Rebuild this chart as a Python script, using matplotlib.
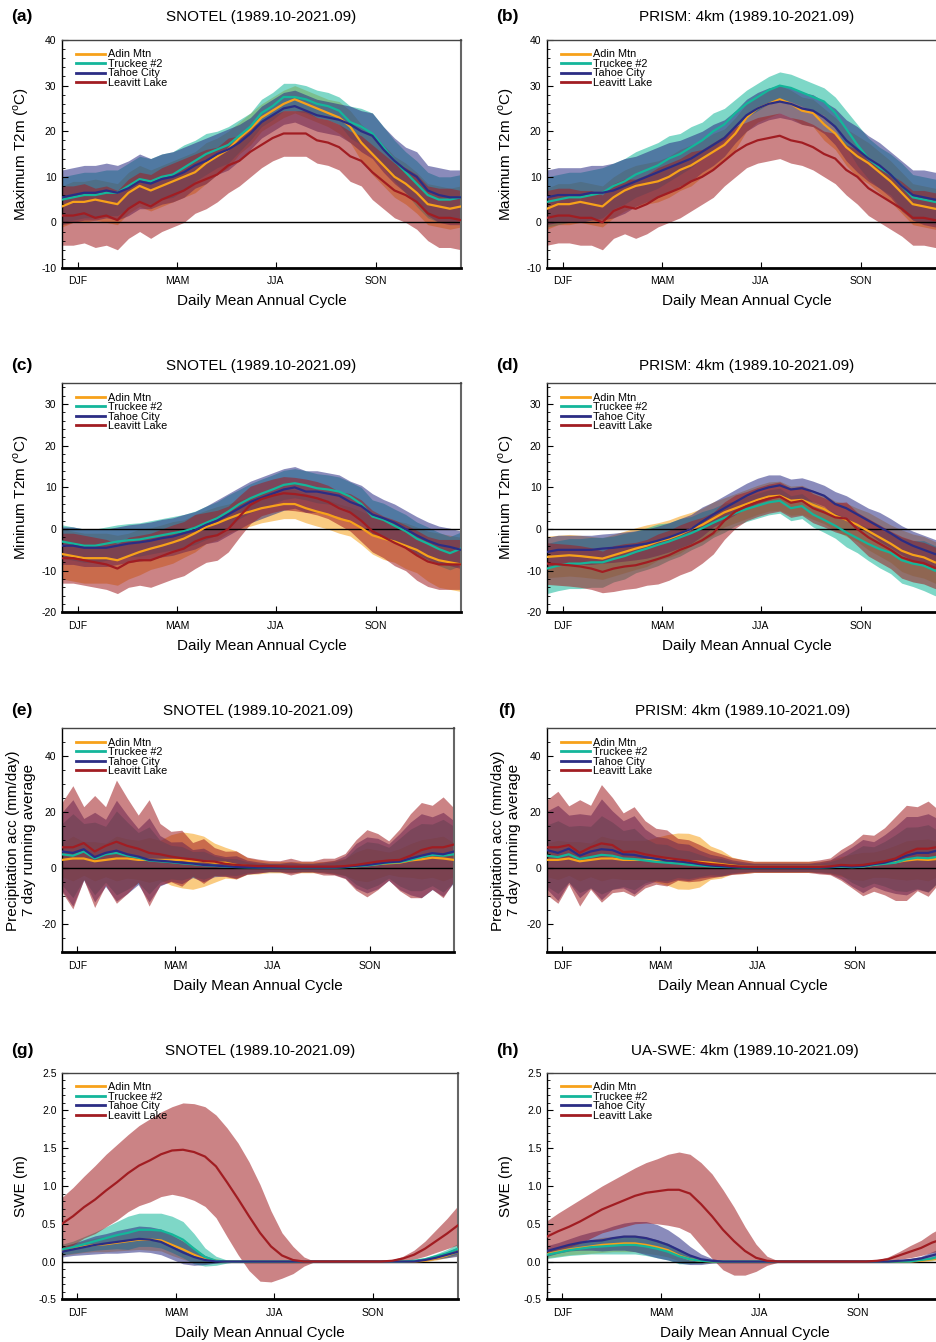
import numpy as np
import matplotlib
matplotlib.use("Agg")
import matplotlib.pyplot as plt
from matplotlib.ticker import MultipleLocator, FormatStrFormatter

plt.rcParams['font.family'] = ['Liberation Sans', 'DejaVu Sans']
plt.rcParams['mathtext.fontset'] = 'custom'
plt.rcParams['mathtext.rm'] = 'Liberation Sans'
plt.rcParams['axes.unicode_minus'] = False

# ---------------- data ----------------
days = [0, 10, 20, 30, 40, 50, 60, 70, 80, 90, 100, 110, 120, 130, 140, 150, 160, 170, 180,
        190, 200, 210, 220, 230, 240, 250, 260, 270, 280, 290, 300, 310, 320, 330, 340, 350, 360]
season_ticks = [14, 104, 193, 283]
season_labels = ["DJF", "MAM", "JJA", "SON"]
stations = ["Adin Mtn", "Truckee #2", "Tahoe City", "Leavitt Lake"]
colors = ["#F7A11A", "#14B69A", "#2B2D84", "#A11D22"]

# (a) SNOTEL Tmax
tmax_snotel_adin = [3.5,4.5,4.5,5,4.5,4,6.5,8,7,8,9,10,11,13,14.5,16,18.5,20.5,23,24.5,26,27,26,25,24,23,21,17.5,15,12.5,10,8.5,6.5,4,3.5,3,3.5]
tmax_snotel_truckee = [5,5.5,6,6,6.5,6.5,8,9.5,9,10,10.5,12,13.5,15,16,17,19,21,24,25.5,27.5,27.5,27,26,25.5,24.5,22,21,19.5,16.5,13.5,11,8.5,6,5,5,5.5]
tmax_snotel_tahoe = [5.5,6,6.5,6.5,7,6.5,7.5,9,8.5,9.5,10,11,12.5,13.5,15,16,17.5,19.5,22,23.5,25,25.5,24.5,23.5,23,22.5,21.5,20,19,16,13.5,11.5,10,7,6,5.5,5.5]
tmax_snotel_leavitt = [1.5,1.5,2,1,1.5,0.5,3,4.5,3.5,5,6,7,8.5,9.5,10.5,12.5,13.5,15.5,17,18.5,19.5,19.5,19.5,18,17.5,16.5,14.5,13.5,11,9,7,6,4.5,2,1,1,0.5]
tmax_snotel_sd_adin = [4.5,4.5,4.5,4.5,4.5,4.5,4.5,4.5,4.5,4.5,4.5,4.5,4.5,4.5,4,4,3.5,3.5,3,3,3,3,3,3,3,3.5,3.5,4,4.5,4.5,4.5,4.5,4.5,4.5,4.5,4.5,4.5]
tmax_snotel_sd_truckee = [5,5,5,5,5,5,5,5,5,5,5,5,4.5,4.5,4,4,3.5,3,3,3,3,3,3,3,3,3,3.5,4,4.5,4.5,4.5,4.5,5,5,5,5,5]
tmax_snotel_sd_tahoe = [6,6,6,6,6,6,6,6,5.5,5.5,5.5,5.5,5,5,4.5,4.5,4,3.5,3.5,3.5,3.5,3.5,3.5,3.5,3.5,3.5,4,4.5,5,5,5,5,5.5,5.5,6,6,6]
tmax_snotel_sd_leavitt = [6.5,6.5,6.5,6.5,6.5,6.5,6.5,6.5,7,7,7,7,6.5,6.5,6,6,5.5,5.5,5,5,5,5,5,5,5,5,5.5,5.5,6,6,6,6,6,6,6.5,6.5,6.5]

# (b) PRISM Tmax
tmax_prism_adin = [3,4,4,4.5,4,3.5,5.5,7,8,8.5,9,10,11.5,12.5,14,15.5,17,19.5,23,25,26,27,26,24.5,24,21.5,19.5,16.5,14.5,13,11,9,6.5,4,3.5,3,2.5]
tmax_prism_truckee = [4.5,5,5.5,5.5,6,6.5,8,9,10.5,11.5,12.5,14,15,16.5,18,20,21.5,24,26,27.5,29,30,29.5,28.5,27.5,26.5,24,20.5,17,14,12,10.5,8,5.5,5,4.5,4]
tmax_prism_tahoe = [5.5,6,6,6,6.5,6.5,7,8,9,10,11,12,13,14,15.5,17,18.5,21,23.5,25,26,26.5,26,25,24.5,23,21,18,16,14,12.5,10.5,8,6,5.5,5,5]
tmax_prism_leavitt = [1,1.5,1.5,1,1,0,2.5,3.5,3,4,5.5,6.5,7.5,9,10,11.5,13.5,15.5,17,18,18.5,19,18,17.5,16.5,15,14,11.5,10,7.5,6,4.5,3,1,1,0.5,0.5]
tmax_prism_sd_adin = [4.5,4.5,4.5,4.5,4.5,4.5,4.5,4.5,4.5,4.5,4.5,4.5,4.5,4.5,4,4,3.5,3.5,3,3,3,3,3,3,3,3.5,3.5,4,4.5,4.5,4.5,4.5,4.5,4.5,4.5,4.5,4.5]
tmax_prism_sd_truckee = [5.5,5.5,5.5,5.5,5.5,5.5,5,5,5,5,5,5,4.5,4.5,4,4,3.5,3,3,3,3,3,3,3,3,3,3.5,4,4.5,4.5,4.5,4.5,5,5,5,5,5]
tmax_prism_sd_tahoe = [6,6,6,6,6,6,6,6,5.5,5.5,5.5,5.5,5,5,4.5,4.5,4,3.5,3.5,3.5,3.5,3.5,3.5,3.5,3.5,3.5,4,4.5,5,5,5,5,5.5,5.5,6,6,6]
tmax_prism_sd_leavitt = [6,6,6,6,6,6,6,6,6.5,6.5,6.5,6.5,6.5,6.5,6,6,5.5,5.5,5,5,5,5,5,5,5,5,5.5,5.5,6,6,6,6,6,6,6,6,6]

# (c) SNOTEL Tmin
tmin_snotel_adin = [-6,-6.5,-7,-7,-7,-7.5,-6.5,-5.5,-4.7,-4,-3.2,-2.3,-1,0.5,1.4,2.5,3.5,4.2,5,5.5,6,6,5,4.2,3.5,2.5,1.8,0.3,-1.5,-2.3,-3,-4,-5,-6.5,-7.5,-8,-8.5]
tmin_snotel_truckee = [-3,-3.5,-4,-4,-3.5,-3,-2.7,-2.5,-2,-1.5,-1,-0.5,0.3,1.5,2.6,4.2,6,7.4,8.5,9.5,10.6,11,10.5,9.8,9.5,9,7.8,6,3,2.2,0.8,-0.5,-2.3,-3.5,-4.8,-5.8,-4.7]
tmin_snotel_tahoe = [-4,-4,-4.5,-4.5,-4.5,-4,-3.5,-3.2,-2.8,-2.2,-1.8,-1,-0.3,1,2,3.5,5,6.5,7.5,8.5,9.5,10,9,9,8.5,8,6.5,5.5,3.5,2.6,1.5,0,-1.5,-2.8,-3.8,-4.3,-5]
tmin_snotel_leavitt = [-7,-7,-7.5,-8,-8.5,-9.5,-8,-7.5,-7.5,-6.5,-5.5,-4.7,-3,-2,-1.5,0,3,5.8,7.2,8,8.6,8.4,8,7.4,6.5,5,4,2,-0.5,-1.9,-3.3,-4.5,-6.3,-7.8,-8.5,-8.5,-8.5]
tmin_snotel_sd_adin = [6,6,6,6,6,6,5.5,5.5,5,5,5,4.5,4.5,4,4,3.5,3.5,3.5,3.5,3.5,3.5,3.5,3.5,3.5,3.5,3.5,3.5,4,4.5,5,5,5.5,5.5,6,6.5,6.5,6.5]
tmin_snotel_sd_truckee = [4,4,4,4,4,4,4,4,4,4,4,4,4,4,4,4,3.5,3.5,3.5,3.5,3.5,3.5,3.5,3.5,3.5,3.5,3.5,4,4,4,4,4,4,4,4,4,4]
tmin_snotel_sd_tahoe = [4.5,4.5,4.5,4.5,4.5,4.5,4.5,4.5,4.5,4.5,4.5,4.5,4.5,4.5,5,5,5,5,5,5,5,5,5,5,5,5,5,5,5,4.5,4.5,4.5,4.5,4.5,4.5,4.5,4.5]
tmin_snotel_sd_leavitt = [6,6,6,6,6,6,6,6,6.5,6.5,6.5,6.5,6.5,6,6,5.5,5,4.5,4,4,4,4,4,4,4,4,4.5,5,5,5,5.5,5.5,6,6,6,6,6]

# (d) PRISM Tmin
tmin_prism_adin = [-6.7,-6.5,-6.3,-6.5,-6.8,-7.1,-6.3,-5.5,-4.7,-4,-3,-2.3,-1.3,0,1,2.5,4,5,6,7,7.8,8,6.8,7,5.8,4.8,3.2,2.2,1,-0.5,-2,-3.5,-5.2,-6.2,-6.8,-8,-8.5]
tmin_prism_truckee = [-9.5,-8.8,-8.3,-8.3,-8,-8,-7.2,-6.5,-5.5,-4.7,-3.8,-3,-2,-1,0.2,1.5,2.7,3.8,4.8,5.6,6.4,6.8,5,5.5,3.5,2.2,0.8,-0.8,-2.2,-3.6,-4.8,-5.7,-7.5,-8.3,-8.8,-10,-10.3]
tmin_prism_tahoe = [-5.5,-5,-5,-5,-5,-4.7,-4.5,-4.2,-3.9,-3.5,-2.8,-2,-1,0,1.8,3.5,5,6.5,8,9.2,10,10.5,9.5,9.8,9,8,6,5,3.5,2,0.5,-1,-2.7,-4,-5,-6,-6.5]
tmin_prism_leavitt = [-8.3,-8.5,-8.7,-9,-9.5,-10.3,-9.5,-9,-8.7,-8,-7.2,-6.3,-5,-4,-2.7,-1,2,4.2,5.5,6.5,7.3,7.8,6.3,6.8,5,4,2.8,2.5,0,-2,-3.5,-5,-6.8,-7.7,-8.2,-9.3,-9.5]
tmin_prism_sd_adin = [5,5,5,5,5,5,5,5,5,5,4.5,4.5,4.5,4,4,4,3.5,3.5,3.5,3.5,3.5,3.5,3.5,3.5,3.5,3.5,3.5,4,4,4.5,4.5,4.5,5,5,5,5,5]
tmin_prism_sd_truckee = [6,6,6,6,6,6,5.5,5.5,5,5,5,4.5,4.5,4,4,3.5,3.5,3,3,3,3,3,3,3,3,3,3,3.5,3.5,4,4.5,5,5.5,5.5,6,6,6]
tmin_prism_sd_tahoe = [3.5,3.5,3.5,3.5,3.5,3.5,3.5,3.5,3.5,3.5,3.5,3.5,3.5,3.5,3.5,3,3,3,3,3,3,2.5,2.5,2.5,2.5,2.5,3,3,3,3,3.5,3.5,3.5,3.5,3.5,3.5,3.5]
tmin_prism_sd_leavitt = [5,5,5,5,5,5,5.5,5.5,5.5,5.5,6,6,6,6,5.5,5,4.5,4,3.5,3.5,3.5,3.5,3.5,3.5,3.5,3.5,3.5,4,4,4.5,4.5,4.5,5,5,5,5,5]

# (e) SNOTEL precipitation (7-day running mean)
pr_snotel_adin = [3,3.5,3.5,2.5,3,3.5,3.5,3,3,3,3,3,2.5,2.5,2,2,1.2,0.8,0.5,0.4,0.4,0.4,0.4,0.4,0.4,0.4,0.5,0.8,1.2,1.5,1.8,2,2.8,3.2,3.8,3.5,3]
pr_snotel_truckee = [5,4.5,6,3.5,5,5.5,4.5,3.8,2.8,2.5,2.2,1.8,1.5,1.1,0.9,0.6,0.45,0.35,0.3,0.3,0.3,0.3,0.3,0.3,0.3,0.3,0.4,0.7,1,1.5,2,2.2,3,4,4.8,4.5,5]
pr_snotel_tahoe = [6,5.5,6.8,4,5.5,6.3,5,4.2,3,2.7,2.4,2,1.7,1.2,1,0.7,0.5,0.4,0.3,0.3,0.3,0.3,0.3,0.3,0.3,0.3,0.5,0.9,1.2,1.7,2.2,2.4,3.5,4.5,5.4,5,6]
pr_snotel_leavitt = [7.5,7.5,9,6,8,9.5,8,7,5.5,5,4.2,3.6,3.2,2.6,2.4,1.6,1.2,1,0.8,0.8,0.7,0.6,0.6,0.6,0.6,0.6,0.8,1.2,1.8,2.4,2.8,3,4.5,6.5,7.5,7.5,8.5]
pr_snotel_sd_adin = [6,8,6,7,6,8,7,7,8,7,9,10,10,9,7,5.5,5,3,2.5,2,2,2,2,2,2,2.5,3,5,6,5,4,5,6,7,7,8,6]
pr_snotel_sd_truckee = [11,15,10,13,10,15,12,9,12,7.5,6,6,4.5,5,3.5,3,3,2,1.5,1.5,1.5,1.5,1.5,1.5,1.5,2,3,6.5,8.5,7.5,5.5,8.5,11,12,11,13,10]
pr_snotel_sd_tahoe = [14,19,11,16,12,18,14,10,15,9,7,7.5,5,6,4,3.5,4,2.5,2,1.5,1.5,2,1.5,1.5,2,2.5,4,8,10,9,6.5,10,13,15,13,15,11]
pr_snotel_sd_leavitt = [16,22,13,20,14,22,17,12,19,11,9,10,6,8,5,4.5,5,3,2.5,2,2,3,2,2,3,3,4.5,9,12,10,7,11,15,17,15,18,13]

# (f) PRISM precipitation (7-day running mean)
pr_prism_adin = [3,3,3.5,2.5,3,3.5,3.5,3,3,3,3,3,2.6,2.5,2.3,2,1.5,1,0.6,0.5,0.5,0.5,0.5,0.5,0.5,0.5,0.5,0.7,0.5,0.7,1.3,1.8,2.2,2.8,3.2,3,3.4]
pr_prism_truckee = [4.5,4,5,3.3,4,4.8,4.5,3.5,3.3,2.8,2.3,2,1.7,1.3,1,0.7,0.5,0.4,0.3,0.3,0.3,0.3,0.3,0.3,0.3,0.3,0.4,0.6,0.4,0.6,1.2,1.6,2,3.2,3.8,3.6,4.2]
pr_prism_tahoe = [6.5,5.5,7,4.5,6,6.8,6.5,5,4.8,4,3.4,2.8,2.5,2.1,1.5,1,0.7,0.5,0.4,0.3,0.3,0.3,0.3,0.3,0.3,0.3,0.5,0.8,0.6,0.8,1.5,2,3,4.5,5.5,5.5,6.5]
pr_prism_leavitt = [7.5,7.5,8.3,5.5,7.5,8.9,8.3,5.8,6,5,4.3,3.7,3.2,2.7,2,1.5,1.2,0.8,0.6,0.5,0.5,0.5,0.5,0.5,0.5,0.5,0.7,1.2,1,1.2,1.8,2.5,3.5,5.5,7,7,7.7]
pr_prism_sd_adin = [6,7,6,7,6,8,7,7,7,7,8,9,10,10,9,6,5,3,2.5,2,2,2,2,2,2,2,2.5,3.5,4.5,5,4.5,5,6,7,7,7.5,6]
pr_prism_sd_truckee = [11,13,10,12,11,14,12,10,11,8,6.5,6.5,5,5,4,3,3,2,1.5,1.5,1.5,1.5,1.5,1.5,1.5,1.5,2,3,5.5,7.5,6.5,8,10,11.5,11,12,9]
pr_prism_sd_tahoe = [14,17,12,15,13,18,14,12,14,10,8,8,6.5,6.5,5,4,3.5,2.5,2,1.5,1.5,1.5,1.5,1.5,1.5,2,2.5,4.5,7,9.5,8,10,12,14,13,14,11]
pr_prism_sd_leavitt = [17,20,14,19,15,21,17,14,16,12,10,10,7.5,7.5,6.5,5,4,3,2.5,2,2,2,2,2,2,2.5,3,5.5,8,11,10,12,15,17,15,17,13]

# (g) SNOTEL SWE (m)
swe_snotel_adin = [0.14,0.17,0.2,0.22,0.23,0.25,0.27,0.29,0.29,0.28,0.22,0.16,0.09,0.03,0.01,0,0,0,0,0,0,0,0,0,0,0,0,0,0,0,0,0,0,0.01,0.04,0.08,0.13]
swe_snotel_truckee = [0.16,0.19,0.23,0.27,0.31,0.35,0.38,0.42,0.42,0.41,0.36,0.29,0.17,0.06,0.01,0,0,0,0,0,0,0,0,0,0,0,0,0,0,0,0,0,0.01,0.03,0.07,0.11,0.17]
swe_snotel_tahoe = [0.13,0.16,0.19,0.22,0.24,0.26,0.28,0.3,0.29,0.26,0.19,0.12,0.06,0.02,0,0,0,0,0,0,0,0,0,0,0,0,0,0,0,0,0,0,0,0.02,0.05,0.09,0.13]
swe_snotel_leavitt = [0.5,0.6,0.72,0.82,0.94,1.05,1.17,1.27,1.34,1.42,1.47,1.48,1.45,1.39,1.26,1.05,0.83,0.6,0.38,0.2,0.08,0.02,0,0,0,0,0,0,0,0,0.01,0.04,0.09,0.17,0.27,0.37,0.48]
swe_snotel_sd_adin = [0.06,0.07,0.08,0.09,0.1,0.11,0.12,0.13,0.14,0.14,0.14,0.13,0.1,0.05,0.02,0,0,0,0,0,0,0,0,0,0,0,0,0,0,0,0,0,0,0.01,0.02,0.03,0.05]
swe_snotel_sd_truckee = [0.07,0.08,0.1,0.12,0.15,0.18,0.22,0.22,0.22,0.23,0.24,0.24,0.2,0.12,0.06,0.02,0,0,0,0,0,0,0,0,0,0,0,0,0,0,0,0,0.01,0.02,0.03,0.05,0.07]
swe_snotel_sd_tahoe = [0.07,0.08,0.1,0.12,0.13,0.15,0.16,0.17,0.17,0.17,0.16,0.15,0.11,0.06,0.02,0,0,0,0,0,0,0,0,0,0,0,0,0,0,0,0,0,0,0.01,0.02,0.04,0.06]
swe_snotel_sd_leavitt = [0.35,0.38,0.41,0.45,0.48,0.5,0.51,0.53,0.55,0.56,0.58,0.62,0.64,0.66,0.68,0.72,0.74,0.72,0.64,0.47,0.3,0.18,0.06,0,0,0,0,0,0,0,0.01,0.03,0.06,0.1,0.15,0.2,0.26]

# (h) UA-SWE (m)
swe_ua_adin = [0.1,0.13,0.16,0.18,0.2,0.22,0.23,0.24,0.24,0.22,0.19,0.15,0.08,0.03,0.01,0,0,0,0,0,0,0,0,0,0,0,0,0,0,0,0,0,0,0,0.01,0.03,0.06]
swe_ua_truckee = [0.09,0.12,0.15,0.17,0.19,0.2,0.21,0.22,0.22,0.2,0.17,0.13,0.07,0.03,0.01,0,0,0,0,0,0,0,0,0,0,0,0,0,0,0,0,0,0,0,0.02,0.04,0.08]
swe_ua_tahoe = [0.14,0.18,0.22,0.25,0.27,0.28,0.31,0.33,0.33,0.31,0.27,0.22,0.15,0.08,0.03,0.01,0,0,0,0,0,0,0,0,0,0,0,0,0,0,0,0,0.01,0.02,0.04,0.08,0.12]
swe_ua_leavitt = [0.33,0.4,0.46,0.53,0.61,0.69,0.75,0.81,0.87,0.91,0.93,0.95,0.95,0.9,0.76,0.6,0.42,0.27,0.14,0.05,0.01,0,0,0,0,0,0,0,0,0,0.01,0.03,0.08,0.13,0.18,0.25,0.3]
swe_ua_sd_adin = [0.05,0.06,0.07,0.08,0.09,0.1,0.1,0.11,0.11,0.11,0.1,0.09,0.07,0.04,0.02,0,0,0,0,0,0,0,0,0,0,0,0,0,0,0,0,0,0,0,0.01,0.02,0.03]
swe_ua_sd_truckee = [0.05,0.06,0.07,0.08,0.09,0.1,0.11,0.12,0.12,0.12,0.12,0.11,0.1,0.06,0.03,0,0,0,0,0,0,0,0,0,0,0,0,0,0,0,0,0,0,0,0.01,0.02,0.03]
swe_ua_sd_tahoe = [0.07,0.07,0.08,0.1,0.12,0.14,0.16,0.18,0.2,0.22,0.22,0.2,0.17,0.12,0.07,0.03,0.01,0,0,0,0,0,0,0,0,0,0,0,0,0,0,0,0.01,0.02,0.03,0.05,0.07]
swe_ua_sd_leavitt = [0.21,0.24,0.27,0.29,0.3,0.31,0.33,0.35,0.37,0.4,0.43,0.47,0.5,0.52,0.55,0.56,0.53,0.45,0.32,0.18,0.06,0.01,0,0,0,0,0,0,0,0,0.01,0.03,0.05,0.08,0.1,0.13,0.16]

# ---------------- layout ----------------
W, H = 937, 1342
fig = plt.figure(figsize=(W / 100, H / 100), dpi=100)

deg = r'($^{\mathrm{o}}$C)'
rows = [  # top_px, bottom_px, width_px, title_y, xlabel_y
    (40.0, 268.0, 399, 1.101, -0.145),
    (383.3, 612.3, 399, 1.077, -0.147),
    (728.3, 952.3, 392, 1.079, -0.149),
    (1072.7, 1299.3, 396, 1.097, -0.147),
]
cols = [62.0, 547.0]

panels = [
    dict(r=0, c=0, lab='(a)', title='SNOTEL (1989.10-2021.09)', ylabel='Maximum T2m ' + deg,
         ylim=(-10, 40), major=10, minor=2, fmt='%d',
         m=[tmax_snotel_adin, tmax_snotel_truckee, tmax_snotel_tahoe, tmax_snotel_leavitt],
         s=[tmax_snotel_sd_adin, tmax_snotel_sd_truckee, tmax_snotel_sd_tahoe, tmax_snotel_sd_leavitt]),
    dict(r=0, c=1, lab='(b)', title='PRISM: 4km (1989.10-2021.09)', ylabel='Maximum T2m ' + deg,
         ylim=(-10, 40), major=10, minor=2, fmt='%d',
         m=[tmax_prism_adin, tmax_prism_truckee, tmax_prism_tahoe, tmax_prism_leavitt],
         s=[tmax_prism_sd_adin, tmax_prism_sd_truckee, tmax_prism_sd_tahoe, tmax_prism_sd_leavitt]),
    dict(r=1, c=0, lab='(c)', title='SNOTEL (1989.10-2021.09)', ylabel='Mininum T2m ' + deg,
         ylim=(-20, 35), major=10, minor=2, fmt='%d',
         m=[tmin_snotel_adin, tmin_snotel_truckee, tmin_snotel_tahoe, tmin_snotel_leavitt],
         s=[tmin_snotel_sd_adin, tmin_snotel_sd_truckee, tmin_snotel_sd_tahoe, tmin_snotel_sd_leavitt]),
    dict(r=1, c=1, lab='(d)', title='PRISM: 4km (1989.10-2021.09)', ylabel='Mininum T2m ' + deg,
         ylim=(-20, 35), major=10, minor=2, fmt='%d',
         m=[tmin_prism_adin, tmin_prism_truckee, tmin_prism_tahoe, tmin_prism_leavitt],
         s=[tmin_prism_sd_adin, tmin_prism_sd_truckee, tmin_prism_sd_tahoe, tmin_prism_sd_leavitt]),
    dict(r=2, c=0, lab='(e)', title='SNOTEL (1989.10-2021.09)',
         ylabel='Precipitation acc (mm/day)\n7 day running average',
         ylim=(-30, 50), major=20, minor=5, fmt='%d',
         m=[pr_snotel_adin, pr_snotel_truckee, pr_snotel_tahoe, pr_snotel_leavitt],
         s=[pr_snotel_sd_adin, pr_snotel_sd_truckee, pr_snotel_sd_tahoe, pr_snotel_sd_leavitt]),
    dict(r=2, c=1, lab='(f)', title='PRISM: 4km (1989.10-2021.09)',
         ylabel='Precipitation acc (mm/day)\n7 day running average',
         ylim=(-30, 50), major=20, minor=5, fmt='%d',
         m=[pr_prism_adin, pr_prism_truckee, pr_prism_tahoe, pr_prism_leavitt],
         s=[pr_prism_sd_adin, pr_prism_sd_truckee, pr_prism_sd_tahoe, pr_prism_sd_leavitt]),
    dict(r=3, c=0, lab='(g)', title='SNOTEL (1989.10-2021.09)', ylabel='SWE (m)',
         ylim=(-0.5, 2.5), major=0.5, minor=0.1, fmt='%.1f',
         m=[swe_snotel_adin, swe_snotel_truckee, swe_snotel_tahoe, swe_snotel_leavitt],
         s=[swe_snotel_sd_adin, swe_snotel_sd_truckee, swe_snotel_sd_tahoe, swe_snotel_sd_leavitt]),
    dict(r=3, c=1, lab='(h)', title='UA-SWE: 4km (1989.10-2021.09)', ylabel='SWE (m)',
         ylim=(-0.5, 2.5), major=0.5, minor=0.1, fmt='%.1f',
         m=[swe_ua_adin, swe_ua_truckee, swe_ua_tahoe, swe_ua_leavitt],
         s=[swe_ua_sd_adin, swe_ua_sd_truckee, swe_ua_sd_tahoe, swe_ua_sd_leavitt]),
]

for p in panels:
    top, bot, wpx, ty, xly = rows[p['r']]
    x0 = cols[p['c']]
    hpx = bot - top
    ax = fig.add_axes([x0 / W, 1 - bot / H, wpx / W, hpx / H])

    for mean, sd, col in zip(p['m'], p['s'], colors):
        assert len(mean) == len(days) and len(sd) == len(days), p['lab']
        mean = np.asarray(mean, float)
        sd = np.asarray(sd, float)
        ax.fill_between(days, mean - sd, mean + sd, color=col, alpha=0.55, lw=0, zorder=1)
    ax.axhline(0, color='black', lw=1.0, zorder=2.5)
    for mean, col, name in zip(p['m'], colors, stations):
        ax.plot(days, mean, color=col, lw=1.6, label=name, zorder=3, solid_joinstyle='round')

    ax.set_xlim(0, 360)
    ax.set_ylim(*p['ylim'])
    ax.set_xticks(season_ticks)
    ax.set_xticklabels(season_labels)
    lo, hi = p['ylim']
    major = p['major']
    yt = np.arange(np.ceil(lo / major) * major, hi + 1e-9, major)
    ax.set_yticks(yt)
    ax.yaxis.set_major_formatter(FormatStrFormatter(p['fmt']))
    ax.yaxis.set_minor_locator(MultipleLocator(p['minor']))

    ax.tick_params(axis='x', which='both', direction='in', length=4, width=0.8,
                   labelsize=7.5, pad=6, top=False)
    ax.tick_params(axis='y', which='major', direction='in', length=4, width=0.8,
                   labelsize=7.5, pad=4, right=False)
    ax.tick_params(axis='y', which='minor', direction='in', length=2, width=0.6, right=False)

    ax.spines['top'].set_linewidth(1.0)
    ax.spines['top'].set_color('#444444')
    ax.spines['right'].set_linewidth(1.5)
    ax.spines['right'].set_color('#666666')
    ax.spines['left'].set_linewidth(1.0)
    ax.spines['left'].set_color('black')
    ax.spines['bottom'].set_linewidth(2.0)
    ax.spines['bottom'].set_color('black')

    ax.set_ylabel(p['ylabel'], fontsize=11, va='center', ha='center', linespacing=1.15)
    ax.yaxis.set_label_coords((21 - 62) / wpx, 0.5)
    ax.set_xlabel('Daily Mean Annual Cycle', fontsize=11, va='center')
    ax.xaxis.set_label_coords(0.5, xly)

    ax.text(0.5, ty, p['title'], transform=ax.transAxes, ha='center', va='center', fontsize=11)
    lab_x = 22 if p['c'] == 0 else 507
    fig.text(lab_x / W, 1 - (top - (ty - 1) * hpx) / H, p['lab'], ha='center', va='center',
             fontsize=12.5, fontweight='bold')

    leg = ax.legend(loc='upper left', bbox_to_anchor=(14 / wpx, 1 - 9.5 / hpx), frameon=False,
                    fontsize=7.8, handlelength=2.7, handletextpad=0.25, labelspacing=-0.05,
                    borderpad=0, borderaxespad=0)
    for ln in leg.get_lines():
        ln.set_linewidth(2.0)

fig.savefig('out.png', dpi=100)
